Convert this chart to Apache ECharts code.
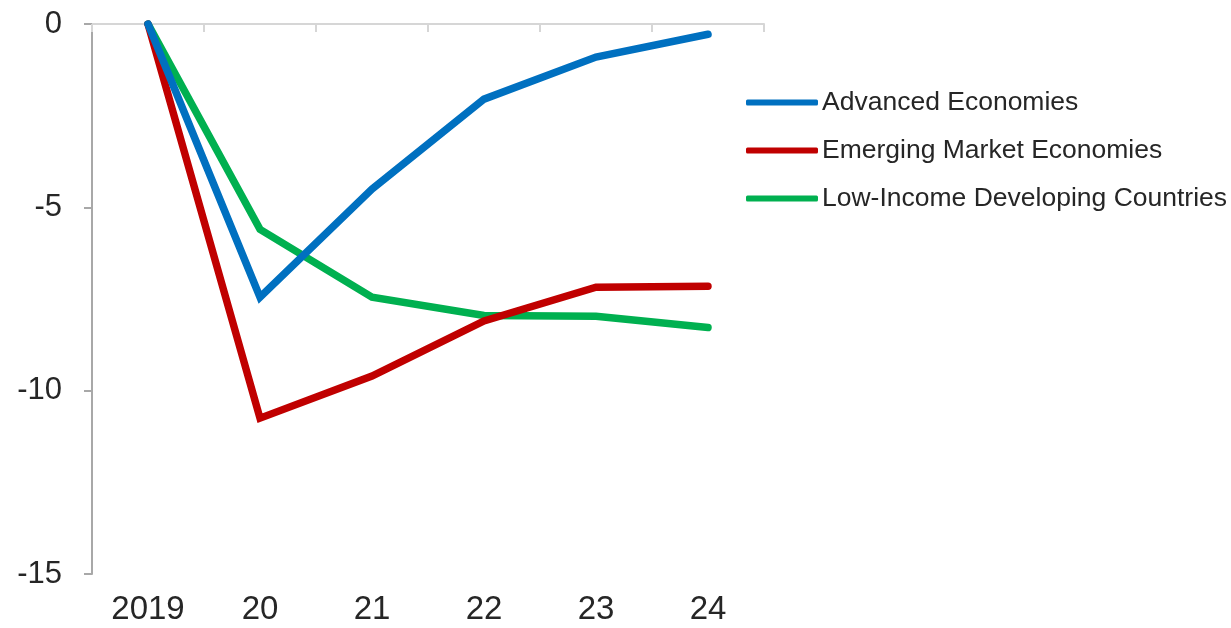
<!DOCTYPE html>
<html>
<head>
<meta charset="utf-8">
<script src="https://cdn.jsdelivr.net/npm/echarts@6/dist/echarts.min.js"></script>
<style>
  html, body { margin: 0; padding: 0; background: #fff; }
  #chart { width: 1231px; height: 628px; }
</style>
</head>
<body>
<div id="chart"></div>
<script>
// Years on the horizontal axis
const years = ['2019', '20', '21', '22', '23', '24'];

// Cumulative output loss vs. pre-pandemic projections (percent)
const advanced = [0, -7.45, -4.5, -2.05, -0.9, -0.28];
const emerging = [0, -10.75, -9.6, -8.1, -7.18, -7.15];
const lowIncome = [0, -5.6, -7.45, -7.95, -7.97, -8.28];

// Y axis range and step
const yMin = -15, yMax = 0, yStep = 5;

const seriesNames = ['Advanced Economies', 'Emerging Market Economies', 'Low-Income Developing Countries'];
const seriesColors = ['#0070C0', '#C00000', '#00B050'];
const seriesData = [advanced, emerging, lowIncome];

const font = 'Liberation Sans, Arial, sans-serif';
const textColor = '#262626';

const chart = echarts.init(document.getElementById('chart'), null, { renderer: 'canvas' });

chart.setOption({
  animation: false,
  backgroundColor: '#ffffff',
  grid: { left: 92, top: 24, right: 467, bottom: 54, containLabel: false },
  legend: {
    orient: 'vertical',
    left: 741,
    top: 84,
    itemWidth: 72,
    itemHeight: 6,
    itemGap: 21,
    icon: 'roundRect',
    textStyle: { fontFamily: font, fontSize: 26.5, color: textColor, padding: [0, 0, 0, -1] },
    data: seriesNames
  },
  xAxis: [
    {
      type: 'category',
      position: 'top',
      data: years,
      boundaryGap: true,
      axisLine: { show: true, onZero: false, lineStyle: { color: '#d6d6d6', width: 2 } },
      axisTick: { show: true, inside: true, length: 8, lineStyle: { color: '#d6d6d6', width: 2 } },
      axisLabel: { show: false }
    },
    {
      type: 'category',
      position: 'bottom',
      data: years,
      boundaryGap: true,
      axisLine: { show: false },
      axisTick: { show: false },
      axisLabel: { show: true, fontFamily: font, fontSize: 33, color: textColor, margin: 19 }
    }
  ],
  yAxis: {
    type: 'value',
    min: yMin,
    max: yMax,
    interval: yStep,
    axisLine: { show: true, lineStyle: { color: '#a8a8a8', width: 2 } },
    axisTick: { show: true, length: 8, lineStyle: { color: '#a8a8a8', width: 2 } },
    splitLine: { show: false },
    axisLabel: { fontFamily: font, fontSize: 31, color: textColor, margin: 30 }
  },
  series: seriesData.map((d, i) => ({
    name: seriesNames[i],
    type: 'line',
    xAxisIndex: 0,
    data: d,
    symbol: 'none',
    color: seriesColors[i],
    lineStyle: { width: 7.5, color: seriesColors[i], cap: 'round', join: 'miter' },
    z: 3 + (2 - i)
  }))
});
</script>
</body>
</html>
